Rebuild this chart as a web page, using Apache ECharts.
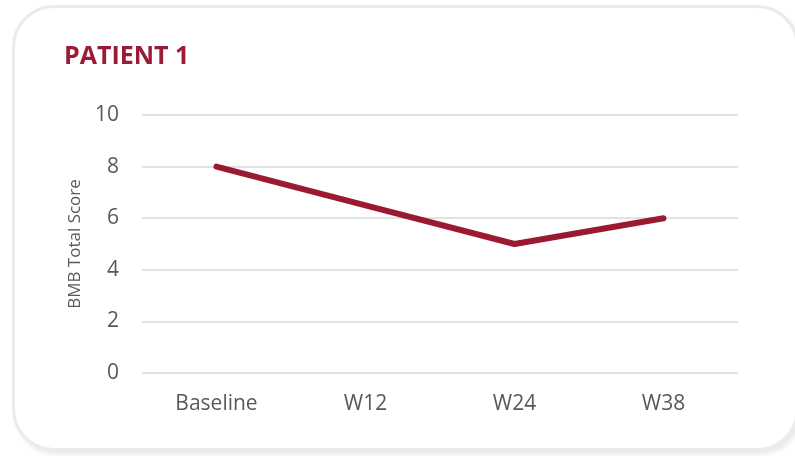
<!DOCTYPE html>
<html><head><meta charset="utf-8">
<script src="https://cdn.jsdelivr.net/npm/echarts@6/dist/echarts.min.js"></script>
<style>
html,body{margin:0;padding:0;width:795px;height:456px;overflow:hidden;background:#fff;}
#card{position:absolute;left:12px;top:5px;width:781px;height:440px;border:3px solid #ebebeb;border-radius:42px;box-shadow:3px 4px 4px rgba(0,0,0,0.08);background:#fff;}
#chart{position:absolute;left:0;top:0;width:795px;height:456px;}
</style></head>
<body>
<div id="card"></div>
<div id="chart"></div>
<script>
const categories = ['Baseline', 'W12', 'W24', 'W38'];
const scores = [8, 6.5, 5, 6];
const yTicks = {min: 0, max: 10, interval: 2};

const chart = echarts.init(document.getElementById('chart'), null, {renderer: 'canvas'});
chart.setOption({
  backgroundColor: 'transparent',
  animation: false,
  title: {
    text: 'PATIENT 1', left: 59, top: 39,
    textStyle: {color: '#9b1b35', fontSize: 25, fontWeight: 'bold', fontFamily: 'Open Sans'}
  },
  grid: {left: 142, right: 57, top: 115, bottom: 83},
  xAxis: {
    type: 'category', data: categories, boundaryGap: true,
    axisLine: {show: false}, axisTick: {show: false},
    axisLabel: {color: '#595959', fontSize: 21, fontFamily: 'Open Sans', margin: 21}
  },
  yAxis: {
    type: 'value', min: yTicks.min, max: yTicks.max, interval: yTicks.interval,
    name: 'BMB Total Score', nameLocation: 'middle', nameGap: 58, nameRotate: 90,
    nameTextStyle: {color: '#595959', fontSize: 17, fontFamily: 'Open Sans'},
    axisLine: {show: false}, axisTick: {show: false},
    axisLabel: {color: '#595959', fontSize: 21, fontFamily: 'Open Sans', margin: 23},
    splitLine: {lineStyle: {color: '#d9d9d9', width: 1.5}}
  },
  series: [{
    type: 'line', data: scores, symbol: 'none',
    lineStyle: {color: '#9b1a32', width: 6, cap: 'round', join: 'round'}
  }]
});
</script>
</body></html>
